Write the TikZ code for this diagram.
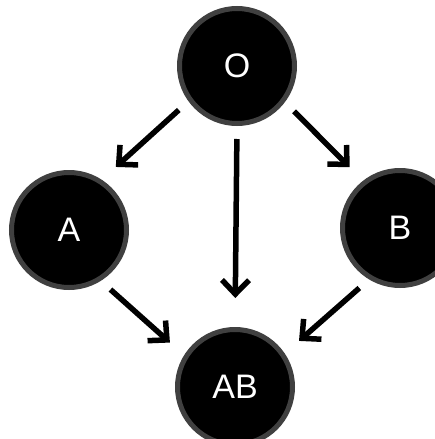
\documentclass[tikz,border=0pt]{standalone}
\usepackage{fontspec}
\setmainfont{Liberation Sans}
\usetikzlibrary{arrows.meta}

\tikzset{
    blob/.style={circle, fill=black, draw=black!75, line width=5pt, minimum size=115pt,
        text=white, font=\fontsize{34}{38}\selectfont, inner sep=0pt},
    arr/.style={-{Straight Barb[length=14pt, width=27pt]}, line width=5.5pt,
        shorten <=13pt, shorten >=19pt},
}

\begin{document}
\begin{tikzpicture}[x=1pt,y=1pt,yscale=-1,xscale=1]
    \useasboundingbox (0,0) rectangle (434,439);

    % Blood groups
    \node [blob] (O)  at (237,66)  {O};
    \node [blob] (A)  at (69,230)  {A};
    \node [blob] (B)  at (400,228) {B};
    \node [blob] (AB) at (235,387) {AB};

    % Arrows
    \draw [arr] (O.216) -- (A.57);
    \draw [arr] (O.323) -- (B.128);
    \draw [arr, shorten >=29pt] (O.270) -- (AB.90);
    \draw [arr] (A.302) -- (AB.148);
    \draw [arr] (B.239) -- (AB.34);

\end{tikzpicture}
\end{document}
